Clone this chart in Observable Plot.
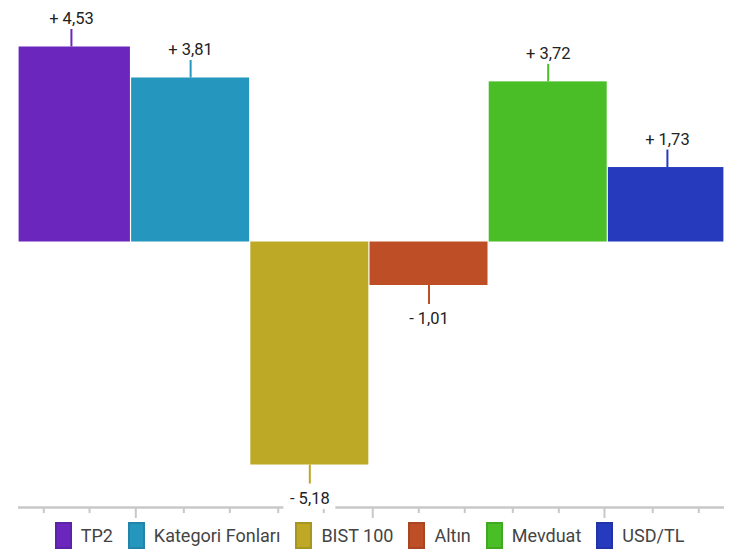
<!DOCTYPE html>
<html>
<head>
<meta charset="utf-8">
<script src="https://cdn.jsdelivr.net/npm/d3@7"></script>
<script src="https://cdn.jsdelivr.net/npm/@observablehq/plot@0.6"></script>
<style>
  body { margin: 0; background: #fff; font-family: Roboto, sans-serif; }
  #legend { display: flex; justify-content: center; align-items: center; gap: 15px;
            height: 27px; margin-top: 4px; font-size: 18px; color: #444; }
  .item { display: flex; align-items: center; }
  .sw { width: 17px; height: 27px; box-sizing: border-box; border: 2px solid; margin-right: 9px; }
</style>
</head>
<body>
<div id="chart"></div>
<div id="legend"></div>
<script>
// ---- data ----
const categories = ["TP2", "Kategori Fonları", "BIST 100", "Altın", "Mevduat", "USD/TL"];
const values = [4.53, 3.81, -5.18, -1.01, 3.72, 1.73];
const colors = ["#6b26be", "#2596be", "#bda926", "#be4e26", "#4abe26", "#263abe"];
// decorative bottom axis ticks (in bar-index units)
const axisTicks = [0.268, 0.652, 1.040, 1.443, 1.829, 2.235, 2.617, 3.028, 3.414, 3.800, 4.203, 4.589, 4.972, 5.377, 5.763];
const majorTicks = [1.040, 3.028, 4.972];

// ---- layout ----
const W = 739, H = 518, mTop = 0, mBottom = 11, mLeft = 18, mRight = 15;
const xDomain = [0.056, 5.979];
const yDomain = [-6.167, 5.610];
const pxPerUnit = (H - mTop - mBottom) / (yDomain[1] - yDomain[0]);
const pxPerX = (W - mLeft - mRight) / (xDomain[1] - xDomain[0]);
const u = px => px / pxPerUnit;
const ux = px => px / pxPerX;

const fmt = v => (v >= 0 ? "+ " : "- ") + Math.abs(v).toFixed(2).replace(".", ",");
const rows = categories.map((c, i) => ({category: c, value: values[i], i, label: fmt(values[i])}));
const pos = rows.filter(d => d.value >= 0);
const neg = rows.filter(d => d.value < 0);
const ticks = axisTicks.map(t => ({t, major: majorTicks.includes(t)}));

const plot = Plot.plot({
  width: W, height: H,
  marginTop: mTop, marginBottom: mBottom, marginLeft: mLeft, marginRight: mRight,
  style: {fontFamily: "Roboto, sans-serif", background: "#fff", overflow: "visible"},
  x: {domain: xDomain, clamp: true, axis: null},
  y: {domain: yDomain, axis: null},
  color: {domain: categories, range: colors},
  marks: [
    Plot.rect(rows, {x1: d => d.i, x2: d => d.i + 1, y1: 0, y2: "value", fill: "category", insetLeft: 0.6, insetRight: 0.6}),
    Plot.ruleY([yDomain[0]], {stroke: "#c8c8c8", strokeWidth: 2.5}),
    Plot.ruleX(ticks, {x: "t", y1: yDomain[0], y2: d => yDomain[0] - u(d.major ? 11 : 6), stroke: "#c8c8c8", strokeWidth: 2}),
    // white box behind negative labels (breaks the axis line under the BIST label)
    Plot.rect(neg, {x1: d => d.i + 0.5 - ux(26), x2: d => d.i + 0.5 + ux(26), y1: d => d.value - u(24), y2: d => d.value - u(44.5), fill: "white"}),
    Plot.ruleX(pos, {x: d => d.i + 0.5, y1: "value", y2: d => d.value + u(17.5), stroke: "category", strokeWidth: 2}),
    Plot.ruleX(neg, {x: d => d.i + 0.5, y1: "value", y2: d => d.value - u(19), stroke: "category", strokeWidth: 2}),
    Plot.text(pos, {x: d => d.i + 0.5, y: "value", text: "label", dy: -23, lineAnchor: "bottom", fontSize: 16.5, fill: "#222"}),
    Plot.text(neg, {x: d => d.i + 0.5, y: "value", text: "label", dy: 39, lineAnchor: "bottom", fontSize: 16.5, fill: "#222"})
  ]
});
document.getElementById("chart").appendChild(plot);

// ---- legend ----
const legend = document.getElementById("legend");
categories.forEach((c, i) => {
  const item = document.createElement("div");
  item.className = "item";
  const sw = document.createElement("span");
  sw.className = "sw";
  sw.style.background = colors[i];
  sw.style.borderColor = d3.color(colors[i]).darker(0.35).formatHex();
  const label = document.createElement("span");
  label.textContent = c;
  item.appendChild(sw);
  item.appendChild(label);
  legend.appendChild(item);
});
</script>
</body>
</html>
